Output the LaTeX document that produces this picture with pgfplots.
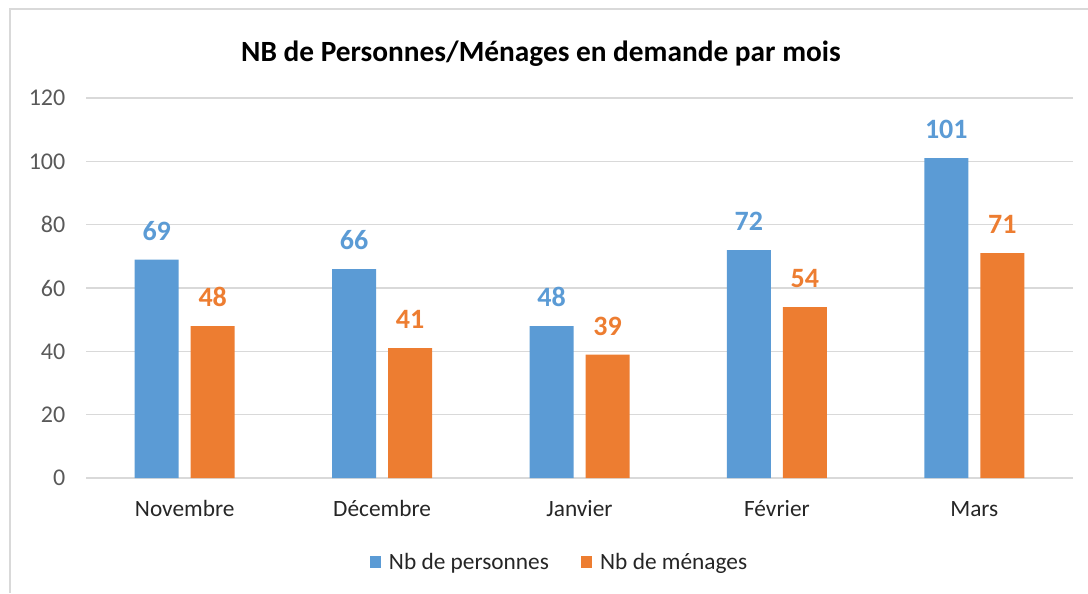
\documentclass[border=0pt]{standalone}
\usepackage{pgfplots}
\pgfplotsset{compat=1.18}
\usepackage{fontspec}
\setmainfont{Carlito}
\definecolor{cblue}{HTML}{5B9BD5}
\definecolor{corange}{HTML}{ED7D31}
\definecolor{cgrid}{HTML}{D9D9D9}
\definecolor{ctick}{HTML}{595959}
\definecolor{ccat}{HTML}{262626}
\begin{document}
\begin{tikzpicture}
\useasboundingbox (0,0) rectangle (816pt,444.75pt);
% outer chart frame (left and top edges visible)
\draw[cgrid, line width=1.5pt] (7.5pt,0pt) -- (7.5pt,438pt) -- (816pt,438pt);
\node[anchor=base, font=\fontsize{22}{26}\selectfont\bfseries] at (405.75pt,398.25pt) {NB de Personnes/Ménages en demande par mois};
\begin{axis}[
  at={(64.5pt,86.25pt)}, anchor=south west,
  scale only axis, width=740.25pt, height=285pt,
  ybar=9pt, bar width=33pt,
  xmin=-0.5, xmax=4.5, ymin=0, ymax=120,
  xtick=data, xticklabels={Novembre,Décembre,Janvier,Février,Mars},
  ytick={0,20,...,120},
  axis x line*=bottom, axis y line*=left,
  x axis line style={cgrid, line width=1.2pt, -},
  y axis line style={draw=none},
  ymajorgrids, grid style={cgrid, line width=1pt},
  major tick length=0pt,
  tick style={draw=none},
  yticklabel style={font=\fontsize{18}{22}\selectfont, text=ctick, xshift=-12pt},
  xticklabel style={font=\fontsize{17.5}{21}\selectfont, text=ccat, anchor=base, yshift=-28.5pt},
  /pgf/number format/assume math mode=true,
  nodes near coords,
  every node near coord/.append style={font=\fontsize{21}{25}\selectfont\bfseries, anchor=base, inner sep=0pt, yshift=14.5pt},
  legend columns=2,
  legend style={draw=none, at={(0.48,-0.221)}, anchor=center, font=\fontsize{17.5}{21}\selectfont, text=ccat,
    /tikz/every odd column/.append style={column sep=4pt},
    /tikz/every even column/.append style={column sep=22pt}},
  legend image code/.code={\fill[#1] (0pt,-4.2pt) rectangle (8.4pt,4.2pt);},
]
\addplot[fill=cblue, draw=none, every node near coord/.append style={text=cblue}] coordinates {(0,69) (1,66) (2,48) (3,72) (4,101)};
\addplot[fill=corange, draw=none, every node near coord/.append style={text=corange}] coordinates {(0,48) (1,41) (2,39) (3,54) (4,71)};
\legend{Nb de personnes, Nb de ménages}
\end{axis}
\end{tikzpicture}
\end{document}
